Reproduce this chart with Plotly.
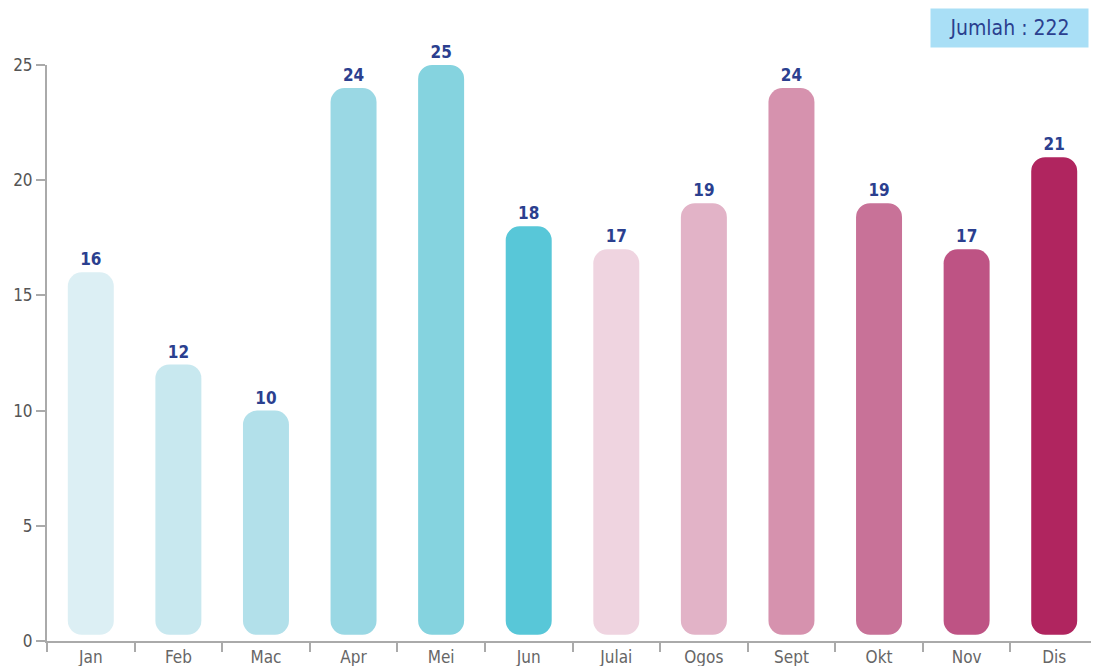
import plotly.graph_objects as go

months = ["Jan", "Feb", "Mac", "Apr", "Mei", "Jun", "Julai", "Ogos", "Sept", "Okt", "Nov", "Dis"]
values = [16, 12, 10, 24, 25, 18, 17, 19, 24, 19, 17, 21]
colors = ["#DCEFF4", "#C8E8EF", "#B2E0EA", "#9AD8E4", "#85D3DF", "#58C7D8",
          "#EFD4E0", "#E2B3C7", "#D692AE", "#C87298", "#BE5384", "#B0255F"]
total_label = "Jumlah : 222"
y_ticks = [0, 5, 10, 15, 20, 25]

gap = 0.27  # small lift so the rounded bottom sits above the axis
FONT = "DejaVu Sans Condensed, Liberation Sans Narrow, Arial Narrow, sans-serif"

fig = go.Figure()
fig.add_trace(go.Bar(
    x=months, y=[v - gap for v in values], base=[gap] * len(values),
    marker=dict(color=colors, line=dict(width=0)),
    text=[str(v) for v in values], textposition="outside",
    textfont=dict(family=FONT, size=17, color="#2B3F8F", weight="bold"),
    cliponaxis=False, width=0.525, hovertext=[str(v) for v in values],
    hoverinfo="x+text", showlegend=False,
))

fig.update_layout(
    barcornerradius=14,
    width=1091, height=658,
    margin=dict(l=39, r=1, t=57, b=25),
    plot_bgcolor="white", paper_bgcolor="white",
    font=dict(family=FONT, color="#666666", size=16),
    xaxis=dict(
        automargin=False,
        showgrid=False, showline=True, linecolor="#AAAAAA", linewidth=2,
        ticks="outside", tickson="boundaries", ticklen=9, tickcolor="#AAAAAA", tickwidth=1.5,
        tickfont=dict(family=FONT, size=17, color="#666666"),
    ),
    yaxis=dict(
        automargin=False,
        range=[0, 25], tickvals=y_ticks, showgrid=False, zeroline=False,
        showline=True, linecolor="#AAAAAA", linewidth=2,
        ticks="outside", ticklen=9, tickcolor="#AAAAAA", tickwidth=1.5,
        tickfont=dict(family=FONT, size=17, color="#555555"),
    ),
    annotations=[dict(
        text=total_label, xref="paper", yref="paper", x=0.9915, y=1.064,
        xanchor="right", yanchor="middle", showarrow=False,
        font=dict(family=FONT, size=21, color="#2B3F8F"),
        bgcolor="#A9DFF6", borderpad=6, width=145, height=26,
    )],
)

fig.write_html("out.html")
